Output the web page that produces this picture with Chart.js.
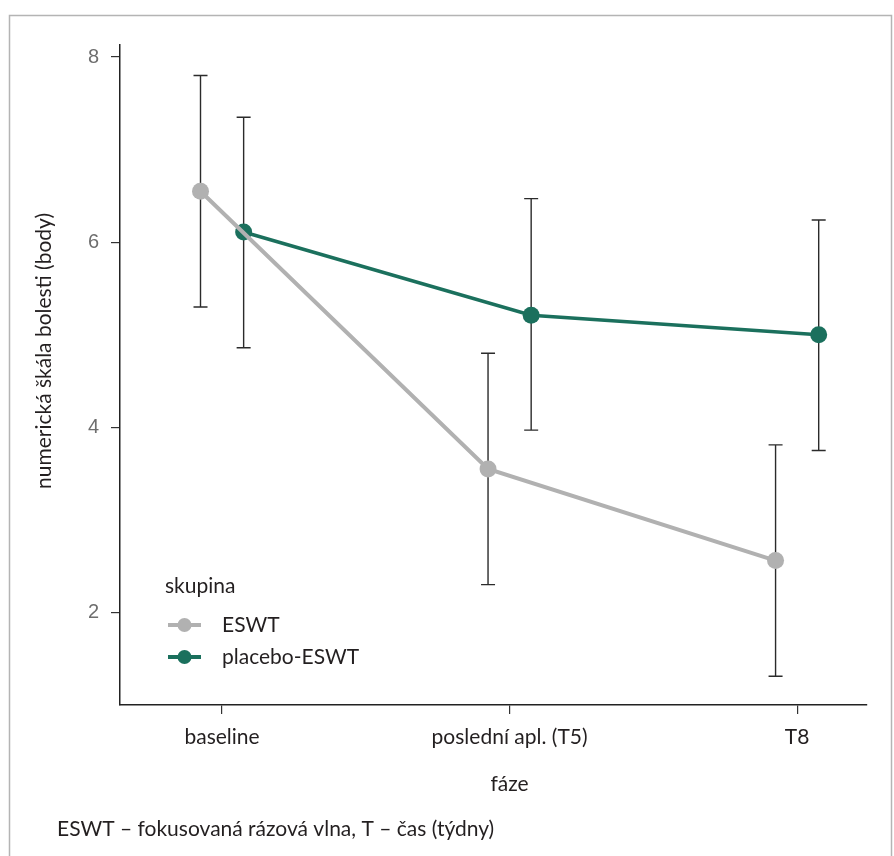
<!DOCTYPE html>
<html>
<head>
<meta charset="utf-8">
<script src="https://cdn.jsdelivr.net/npm/chart.js@4/dist/chart.umd.min.js"></script>
<style>
  html, body { margin: 0; padding: 0; background: #fff; }
  #wrap { position: relative; width: 894px; height: 856px; }
</style>
</head>
<body>
<div id="wrap"><canvas id="myChart" width="894" height="856"></canvas></div>
<script>
// data
const phases = ["baseline", "poslední apl. (T5)", "T8"];
const seriesNames = ["ESWT", "placebo-ESWT"];
const eswtMean = [6.55, 3.55, 2.56];
const eswtLow = [5.30, 2.30, 1.31];
const eswtHigh = [7.80, 4.80, 3.81];
const placeboMean = [6.11, 5.21, 5.00];
const placeboLow = [4.86, 3.97, 3.75];
const placeboHigh = [7.35, 6.47, 6.24];
const yTicks = [2, 4, 6, 8];

const dodge = 0.075;   // points of the two groups are shifted left / right
const colors = ["#b1b1b1", "#1b705d"];
const textColor = "#231f20";
const fontFamily = "Lato, 'Open Sans', sans-serif";
const fontSize = 21;

function toPoints(means, shift) {
    return means.map((v, i) => ({ x: i + shift, y: v }));
}

const errLow = [eswtLow, placeboLow];
const errHigh = [eswtHigh, placeboHigh];

// error bars, drawn under the lines and points
const errorBars = {
    id: "errorBars",
    beforeDatasetsDraw(chart) {
        const ctx = chart.ctx;
        const xs = chart.scales.x, ys = chart.scales.y;
        ctx.save();
        ctx.strokeStyle = "#2b2b2b";
        ctx.lineWidth = 1.4;
        chart.data.datasets.forEach((ds, d) => {
            ds.data.forEach((p, i) => {
                const x = xs.getPixelForValue(p.x);
                const top = ys.getPixelForValue(errHigh[d][i]);
                const bot = ys.getPixelForValue(errLow[d][i]);
                ctx.beginPath();
                ctx.moveTo(x, top); ctx.lineTo(x, bot);
                ctx.moveTo(x - 7, top); ctx.lineTo(x + 7, top);
                ctx.moveTo(x - 7, bot); ctx.lineTo(x + 7, bot);
                ctx.stroke();
            });
        });
        ctx.restore();
    }
};

// frame, axis titles, legend and footnote
const extras = {
    id: "extras",
    afterDraw(chart) {
        const ctx = chart.ctx;
        ctx.save();
        ctx.strokeStyle = "#b4b4b4";
        ctx.lineWidth = 1.5;
        ctx.strokeRect(9.5, 15.5, 882, 900);

        ctx.fillStyle = textColor;
        ctx.font = fontSize + "px " + fontFamily;
        ctx.textAlign = "center";
        ctx.textBaseline = "middle";
        ctx.fillText("fáze", chart.scales.x.getPixelForValue(1), 784);

        ctx.save();
        ctx.translate(44, 351);
        ctx.rotate(-Math.PI / 2);
        ctx.fillText("numerická škála bolesti (body)", 0, 0);
        ctx.restore();

        ctx.textAlign = "left";
        ctx.fillText("ESWT – fokusovaná rázová vlna, T – čas (týdny)", 57, 829);

        // legend
        ctx.fillText("skupina", 165, 586);
        chart.data.datasets.forEach((ds, d) => {
            const y = 625 + d * 32;
            ctx.strokeStyle = ds.borderColor;
            ctx.lineWidth = 4;
            ctx.beginPath();
            ctx.moveTo(168, y); ctx.lineTo(201, y);
            ctx.stroke();
            ctx.fillStyle = ds.borderColor;
            ctx.beginPath();
            ctx.arc(184.5, y, 7, 0, Math.PI * 2);
            ctx.fill();
            ctx.fillStyle = textColor;
            ctx.fillText(ds.label, 222, y);
        });
        ctx.restore();
    }
};

new Chart("myChart", {
    type: "line",
    data: {
        datasets: [{
            label: seriesNames[0],
            data: toPoints(eswtMean, -dodge),
            borderColor: colors[0],
            backgroundColor: colors[0],
            borderWidth: 4,
            pointRadius: 8.5,
            pointBorderWidth: 0
        }, {
            label: seriesNames[1],
            data: toPoints(placeboMean, dodge),
            borderColor: colors[1],
            backgroundColor: colors[1],
            borderWidth: 3.5,
            pointRadius: 8.5,
            pointBorderWidth: 0
        }]
    },
    options: {
        responsive: false,
        animation: false,
        events: [],
        layout: { padding: { top: 45, right: 27, left: 0, bottom: 0 } },
        plugins: { legend: { display: false }, tooltip: { enabled: false } },
        scales: {
            x: {
                type: "linear",
                min: -0.355,
                max: 2.243,
                afterBuildTicks(scale) {
                    scale.ticks = phases.map((p, i) => ({ value: i }));
                },
                afterFit(scale) { scale.height = 151; },
                ticks: {
                    callback: v => phases[v],
                    color: textColor,
                    font: { size: fontSize, family: fontFamily },
                    padding: 11,
                    maxRotation: 0
                },
                grid: { drawOnChartArea: false, tickLength: 9, color: "#333", lineWidth: 1.2 },
                border: { color: "#222", width: 1.5 }
            },
            y: {
                min: 1.0,
                max: 8.13,
                afterBuildTicks(scale) {
                    scale.ticks = yTicks.map(v => ({ value: v }));
                },
                afterFit(scale) { scale.width = 120; },
                ticks: {
                    color: "#6e6e6e",
                    font: { size: 20, family: "'Liberation Sans', sans-serif", weight: "300" },
                    padding: 12
                },
                grid: { drawOnChartArea: false, tickLength: 9, color: "#333", lineWidth: 1.2 },
                border: { color: "#222", width: 1.5 }
            }
        }
    },
    plugins: [errorBars, extras]
});
</script>
</body>
</html>
